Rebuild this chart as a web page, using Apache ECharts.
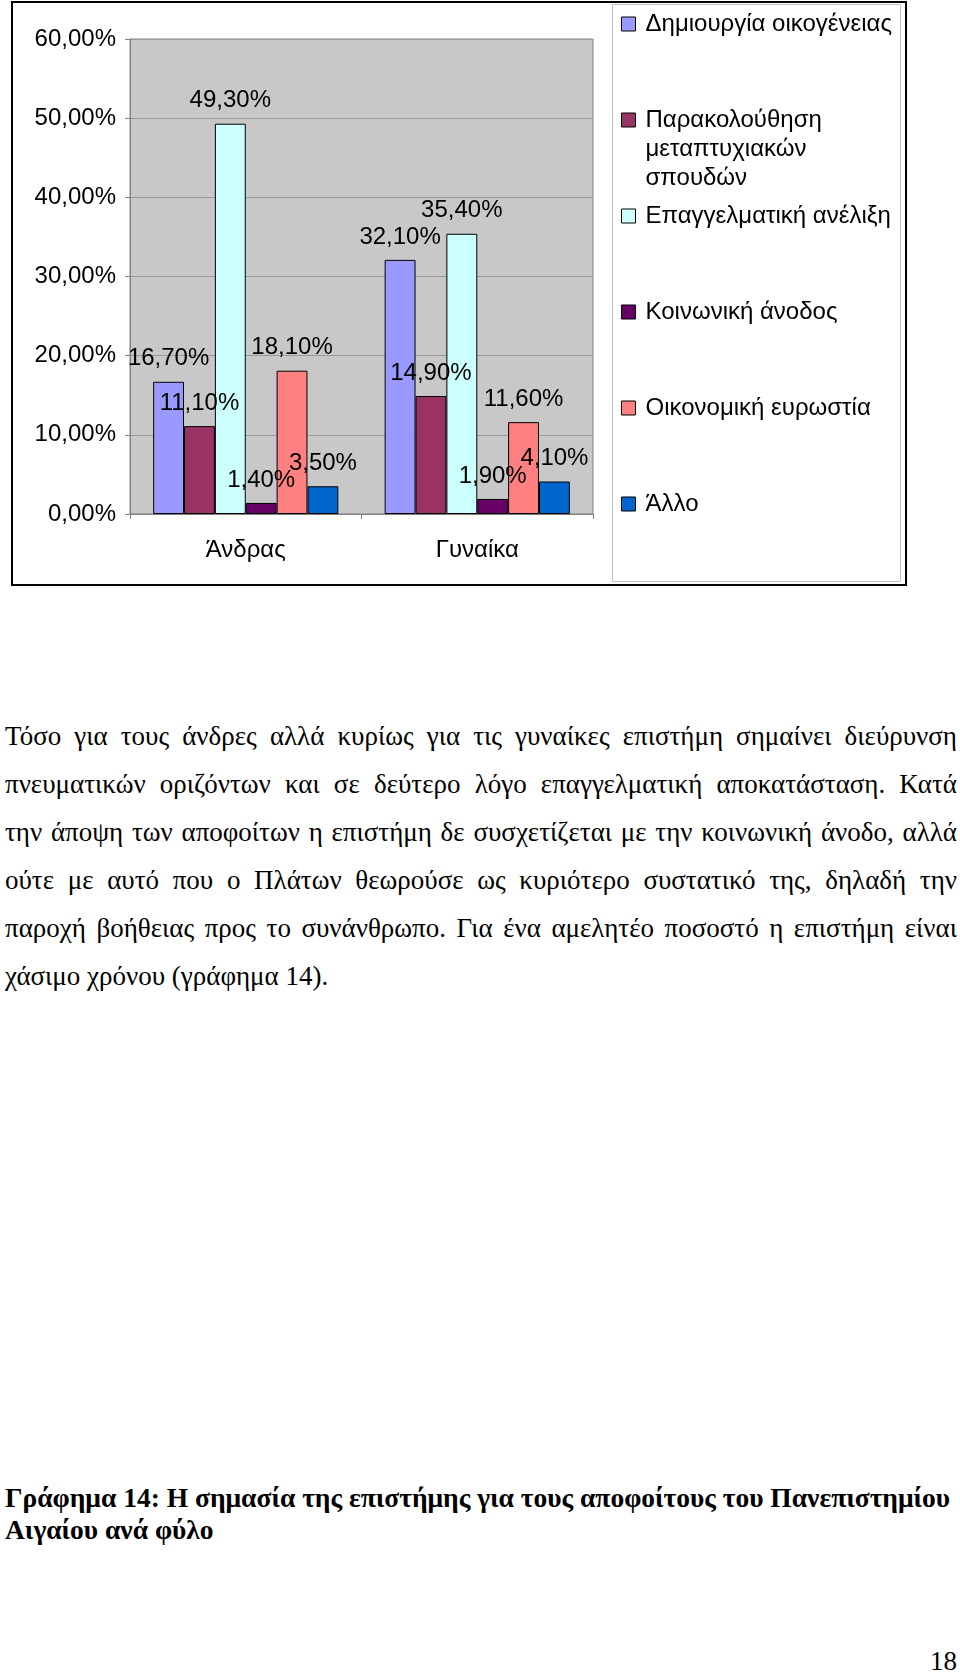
<!DOCTYPE html>
<html>
<head>
<meta charset="utf-8">
<script src="https://cdn.jsdelivr.net/npm/echarts@6/dist/echarts.min.js"></script>
<style>
  html, body { margin: 0; padding: 0; background: #ffffff; }
  body { width: 960px; height: 1673px; position: relative; overflow: hidden; }
  #chart { position: absolute; left: 0; top: 0; width: 960px; height: 600px; }
  .para { position: absolute; left: 5px; top: 712px; width: 952px;
          font-family: 'Liberation Serif', 'Times New Roman', serif; font-size: 27px;
          line-height: 48px; color: #000; }
  .para div { text-align: justify; text-align-last: justify; white-space: nowrap; }
  .para div.last { text-align: left; text-align-last: left; }
  .caption { position: absolute; left: 5px; top: 1482px; width: 955px;
          font-family: 'Liberation Serif', 'Times New Roman', serif; font-size: 27.5px; font-weight: bold;
          line-height: 32px; color: #000; white-space: nowrap; }
  .pagenum { position: absolute; right: 3px; top: 1646px;
          font-family: 'Liberation Serif', 'Times New Roman', serif; font-size: 27px;
          line-height: 30px; color: #000; }
</style>
</head>
<body>
<div id="chart"></div>
<div class="para">
  <div>Τόσο για τους άνδρες αλλά κυρίως για τις γυναίκες επιστήμη σημαίνει διεύρυνση</div>
  <div>πνευματικών οριζόντων και σε δεύτερο λόγο επαγγελματική αποκατάσταση. Κατά</div>
  <div>την άποψη των αποφοίτων η επιστήμη δε συσχετίζεται με την κοινωνική άνοδο, αλλά</div>
  <div>ούτε με αυτό που ο Πλάτων θεωρούσε ως κυριότερο συστατικό της, δηλαδή την</div>
  <div>παροχή βοήθειας προς το συνάνθρωπο. Για ένα αμελητέο ποσοστό η επιστήμη είναι</div>
  <div class="last">χάσιμο χρόνου (γράφημα 14).</div>
</div>
<div class="caption">Γράφημα 14: Η σημασία της επιστήμης για τους αποφοίτους του Πανεπιστημίου<br>Αιγαίου ανά φύλο</div>
<div class="pagenum">18</div>
<script>
// ---- data ----
const categories = ['Άνδρας', 'Γυναίκα'];
const seriesNames = [
  'Δημιουργία οικογένειας',
  'Παρακολούθηση μεταπτυχιακών σπουδών',
  'Επαγγελματική ανέλιξη',
  'Κοινωνική άνοδος',
  'Οικονομική ευρωστία',
  'Άλλο'
];
const legendLabels = [
  'Δημιουργία οικογένειας',
  'Παρακολούθηση\nμεταπτυχιακών\nσπουδών',
  'Επαγγελματική ανέλιξη',
  'Κοινωνική άνοδος',
  'Οικονομική ευρωστία',
  'Άλλο'
];
const familyValues    = [16.7, 32.1];
const postgradValues  = [11.1, 14.9];
const careerValues    = [49.3, 35.4];
const socialValues    = [1.4, 1.9];
const financialValues = [18.1, 11.6];
const otherValues     = [3.5, 4.1];

// ---- styling ----
const seriesValues = [familyValues, postgradValues, careerValues, socialValues, financialValues, otherValues];
const colors = ['#9999FF', '#993366', '#CCFFFF', '#660066', '#FF8080', '#0066CC'];
const FONT = "'Liberation Sans', Arial, sans-serif";
const fmtPct = v => v.toFixed(2).replace('.', ',') + '%';

const chart = echarts.init(document.getElementById('chart'), null, { renderer: 'canvas' });

const legendCenters = [24, 120, 216, 312, 408, 504];
const LH = 29;
const legends = seriesNames.map((name, i) => {
  const lines = legendLabels[i].split('\n').length;
  // pad with leading empty lines so the first text line sits level with the swatch
  const label = '\n'.repeat(lines - 1) + legendLabels[i];
  const totalLines = 2 * lines - 1;
  const boxH = totalLines * LH;
  return {
    data: [name],
    left: 621,
    top: legendCenters[i] - boxH / 2,
    orient: 'vertical',
    padding: 0,
    itemWidth: 14,
    itemHeight: 14,
    selectedMode: false,
    icon: 'rect',
    formatter: () => label,
    itemStyle: { borderColor: '#000', borderWidth: 1 },
    textStyle: {
      fontFamily: FONT, fontSize: 24, color: '#000', lineHeight: LH,
      padding: [0, 0, 0, 5]
    }
  };
});

chart.setOption({
  animation: false,
  color: colors,
  textStyle: { fontFamily: FONT },
  grid: {
    left: 130, top: 39, width: 463, height: 475,
    show: true, backgroundColor: '#C8C8C8', borderColor: '#808080', borderWidth: 1
  },
  legend: legends,
  xAxis: {
    type: 'category',
    data: categories,
    axisLine: { lineStyle: { color: '#808080' } },
    axisTick: { show: true, length: 5, lineStyle: { color: '#808080' } },
    axisLabel: { fontFamily: FONT, fontSize: 24, color: '#000', margin: 24 }
  },
  yAxis: {
    type: 'value',
    min: 0, max: 60, interval: 10,
    axisLine: { show: true, lineStyle: { color: '#808080' } },
    axisTick: { show: true, length: 5, lineStyle: { color: '#808080' } },
    splitLine: { lineStyle: { color: '#999999' } },
    axisLabel: { fontFamily: FONT, fontSize: 24, color: '#000', margin: 14,
      formatter: v => fmtPct(v) }
  },
  series: seriesNames.map((name, i) => ({
    name: name,
    type: 'bar',
    data: seriesValues[i],
    barGap: '0%',
    barCategoryGap: '20%',
    itemStyle: { color: colors[i], borderColor: '#000', borderWidth: 1 },
    label: {
      show: true, position: 'top', distance: 11,
      fontFamily: FONT, fontSize: 24, color: '#000',
      formatter: p => fmtPct(p.value)
    }
  })),
  graphic: [
    { type: 'rect', silent: true, z: -1,
      shape: { x: 612.5, y: 4.5, width: 288, height: 577 },
      style: { fill: 'none', stroke: '#C0C0C0', lineWidth: 1 } },
    { type: 'rect', silent: true, z: 100,
      shape: { x: 12, y: 2, width: 894, height: 583 },
      style: { fill: 'none', stroke: '#000', lineWidth: 2 } }
  ]
});
</script>
</body>
</html>
